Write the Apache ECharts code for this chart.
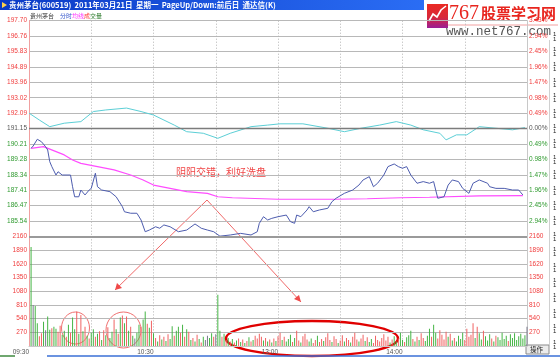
<!DOCTYPE html>
<html><head><meta charset="utf-8">
<script src="https://cdn.jsdelivr.net/npm/echarts@6/dist/echarts.min.js"></script>
<style>html,body{margin:0;padding:0;background:#fff}#c{width:560px;height:362px}</style>
</head><body><div id="c"></div>
<script>
// ---------- data ----------
const prevClose = 191.15;
const priceStep = 0.935;
const priceTickLabels = ['184.61','185.54','186.47','187.41','188.34','189.28','190.21','191.15','192.09','193.02','193.96','194.89','195.83','196.76','197.70'];
const pctTickLabels = ['3.43%','2.94%','2.45%','1.96%','1.47%','0.98%','0.49%','0.00%','0.49%','0.98%','1.47%','1.96%','2.45%','2.94%','3.43%'];
const timeLabels = ['09:30','10:30','13:00','14:00'];
const volMax = 2160, volStep = 270;

// [minute index, price]
const pricePoints = [[1,189.95],[2,190.09],[4,190.50],[6,190.35],[8,190.05],[9,189.85],[10,189.14],[11,188.84],[13,188.33],[14,188.53],[16,188.33],[20,188.33],[21,187.62],[22,187.01],[24,187.01],[25,187.42],[27,187.12],[29,187.42],[30,187.52],[32,188.44],[33,187.62],[35,187.42],[39,187.32],[42,187.01],[45,186.41],[46,186.10],[49,186.01],[52,186.01],[54,185.60],[56,184.89],[58,184.99],[61,185.19],[63,185.10],[65,185.30],[68,185.19],[72,184.89],[76,184.99],[80,185.36],[82,185.19],[83,185.10],[86,184.99],[89,184.89],[92,184.62],[97,184.69],[102,184.79],[107,184.69],[110,184.89],[111,185.40],[113,185.80],[115,185.60],[117,185.70],[120,185.80],[124,185.90],[126,185.50],[128,185.40],[129,185.90],[131,185.80],[134,186.21],[135,186.41],[137,186.10],[140,186.21],[144,186.31],[146,186.71],[148,186.92],[152,187.22],[156,187.42],[159,187.72],[161,188.03],[164,188.23],[166,187.62],[168,187.83],[171,188.33],[173,188.84],[176,189.00],[178,188.84],[180,188.74],[182,188.84],[184,188.33],[187,187.83],[190,187.93],[193,187.83],[195,187.93],[196,187.42],[197,186.92],[200,187.01],[202,187.72],[204,188.03],[207,187.93],[209,187.52],[212,187.22],[214,187.83],[217,188.03],[221,187.83],[222,187.62],[225,187.52],[229,187.52],[233,187.42],[236,187.42],[238,187.12]];
// [minute index, average price]
const avgPoints = [[1,189.95],[7,190.05],[17,189.55],[21,189.24],[25,189.04],[33,188.84],[41,188.64],[49,188.33],[55,188.03],[60,187.72],[68,187.52],[76,187.32],[86,187.22],[91,187.01],[98,186.95],[120,186.86],[147,186.86],[163,186.89],[179,186.95],[193,186.98],[217,187.06],[238,187.08]];
// [minute index, index change %]
const indexPoints = [[0,0.49],[5,0.27],[10,0.06],[17,0.17],[25,0.22],[31,0.54],[37,0.59],[47,0.65],[54,0.54],[60,0.43],[70,0.11],[76,-0.10],[84,-0.15],[91,-0.31],[97,-0.15],[107,0.06],[115,0.11],[121,0.15],[132,0.15],[144,0.01],[152,-0.10],[160,0.01],[169,0.11],[177,0.22],[184,0.11],[190,-0.04],[198,-0.15],[201,-0.36],[206,-0.20],[211,-0.20],[217,0.06],[225,0.01],[233,-0.04],[239,0.03]];
// per-minute volume (minutes 1..240)
const volumes = [
1950,810,790,450,190,250,480,310,580,320,
350,380,340,280,400,220,300,180,420,260,
560,330,680,240,610,290,380,200,150,260,
330,180,240,290,120,310,210,370,160,280,
520,330,240,560,600,450,580,300,380,200,
150,260,420,380,520,680,440,360,500,250,
160,90,210,130,180,100,230,140,390,200,
300,380,260,420,180,330,280,120,160,90,
220,140,70,180,120,200,160,250,180,230,
1010,300,180,240,120,160,90,140,70,110,
150,80,130,60,100,170,90,120,200,150,
240,180,110,160,90,130,70,150,100,190,
260,120,180,90,140,220,80,160,300,110,
70,190,240,130,90,150,60,120,200,80,
140,100,170,250,120,80,190,140,60,110,
210,90,160,120,70,180,260,130,90,150,
220,100,170,80,140,60,200,120,90,160,
230,110,180,70,130,190,90,150,260,120,
80,170,210,300,140,90,180,120,250,160,
100,200,340,180,420,260,150,310,220,130,
280,180,240,110,160,90,200,140,260,120,
340,180,220,450,160,380,250,130,300,190,
110,230,150,90,200,170,120,260,140,200,
100,230,160,250,120,190,240,150,210,380];
// R = up minute, G = down minute, D = unchanged
const volDir = (
'GDGGRRGDGG'+'RGGRRGGRGR'+'GGRGRGRGRG'+'GRGRGRGRGG'+'RGRGRGRGRG'+'DGGRGGRGRG'+
'RGRGRGRGGR'+'GGRGRGRGRG'+'RGRGDDGGRD'+'GGRGRGRGRG'+'RGRGRGRGRR'+'RRGRGRGRGR'+
'RGRGGGRGRR'+'GRRRGGRRGR'+'RGRRRGRRGR'+'RGRRGRRRGR'+'RGRGGRRRRR'+'RRRGRGGRGG'+
'RGGGRGRGRR'+'GGGRGGRRRR'+'RGRGRGGGGR'+'RRRRGRGGRG'+'GGRGRGGGGG'+'RGGGGGGGGD').split('');

// ---------- chart ----------
const priceMin = prevClose - 7 * priceStep;
const priceMax = prevClose + 7 * priceStep;
const kOf = v => Math.round((parseFloat(v) - priceMin) / priceStep);
const sideColor = v => { const k = kOf(v); return k > 7 ? '#f03c3c' : (k === 7 ? '#555555' : '#2f9a2f'); };
const LF = 'Liberation Sans';
const CJK = '"Noto Sans CJK SC"';
const dirColor = { R: '#f06262', G: '#45b545', D: '#7a7a8c' };

const chart = echarts.init(document.getElementById('c'), null, { renderer: 'canvas' });

const xBase = {
  type: 'value', min: 0, max: 240, interval: 30,
  axisTick: { show: false },
  splitLine: { show: true, lineStyle: { color: '#b4b4b4', type: [1, 2], width: 1 } }
};

const onesCol = [];
for (let y = 36; y < 344; y += 15.4) {
  onesCol.push({ type: 'text', style: { x: 553, y: y - 2, text: '1', font: '6px ' + LF, fill: '#222', verticalAlign: 'middle' } });
  onesCol.push({ type: 'text', style: { x: 553, y: y + 3, text: '1', font: '6px ' + LF, fill: '#222', verticalAlign: 'middle' } });
}

const option = {
  animation: false,
  backgroundColor: '#ffffff',
  grid: [
    { left: 29, right: 33, top: 20.7, height: 215.7 },
    { left: 29, right: 33, top: 236.4, height: 109.6 }
  ],
  xAxis: [
    Object.assign({}, xBase, { gridIndex: 0, axisLine: { show: false }, axisLabel: { show: false } }),
    Object.assign({}, xBase, {
      gridIndex: 1,
      axisLine: { show: true, lineStyle: { color: '#c8c8c8' } },
      axisLabel: {
        show: true, fontSize: 6.5, fontFamily: LF, color: '#555', margin: 3, align: 'right',
        formatter: v => (v % 60 === 0 && timeLabels[v / 60]) ? timeLabels[v / 60] : ''
      }
    })
  ],
  yAxis: [
    {
      gridIndex: 0, type: 'value', min: priceMin, max: priceMax, interval: priceStep, position: 'left',
      axisLine: { show: true, lineStyle: { color: '#f0a0a0' } }, axisTick: { show: false },
      splitLine: { show: true, lineStyle: { color: '#b8b8b8', width: 1 } },
      axisLabel: { fontSize: 6.5, fontFamily: LF, margin: 2, color: sideColor,
        formatter: v => { const k = kOf(v); return k === 0 ? '' : priceTickLabels[k]; } }
    },
    {
      gridIndex: 0, type: 'value', min: priceMin, max: priceMax, interval: priceStep, position: 'right',
      axisLine: { show: true, lineStyle: { color: '#c8c8c8' } }, axisTick: { show: false },
      splitLine: { show: false },
      axisLabel: { fontSize: 6.5, fontFamily: LF, margin: 2, color: sideColor,
        formatter: v => { const k = kOf(v); return k === 0 ? '' : pctTickLabels[k]; } }
    },
    {
      gridIndex: 1, type: 'value', min: 0, max: volMax, interval: volStep, position: 'left',
      axisLine: { show: true, lineStyle: { color: '#f0a0a0' } }, axisTick: { show: false },
      splitLine: { show: true, lineStyle: { color: '#b8b8b8', width: 1 } },
      axisLabel: { fontSize: 6.5, fontFamily: LF, margin: 2, color: '#f03c3c', formatter: v => v === 0 ? '' : String(v) }
    },
    {
      gridIndex: 1, type: 'value', min: 0, max: volMax, interval: volStep, position: 'right',
      axisLine: { show: true, lineStyle: { color: '#c8c8c8' } }, axisTick: { show: false },
      splitLine: { show: false },
      axisLabel: { fontSize: 6.5, fontFamily: LF, margin: 2, color: '#f03c3c', formatter: v => v === 0 ? '' : String(v) }
    }
  ],
  series: [
    {
      name: 'index', type: 'line', xAxisIndex: 0, yAxisIndex: 0, showSymbol: false, silent: true,
      data: indexPoints.map(p => [p[0], prevClose * (1 + p[1] / 100)]),
      lineStyle: { color: '#5ccfd6', width: 1 }, z: 2,
      markLine: { symbol: 'none', silent: true, label: { show: false },
        lineStyle: { color: '#7c7c7c', type: 'solid', width: 1.3 }, data: [{ yAxis: prevClose }] }
    },
    {
      name: 'avg', type: 'line', xAxisIndex: 0, yAxisIndex: 0, showSymbol: false, silent: true,
      data: avgPoints, lineStyle: { color: '#ff4cff', width: 1.2 }, z: 3
    },
    {
      name: 'price', type: 'line', xAxisIndex: 0, yAxisIndex: 0, showSymbol: false, silent: true,
      data: pricePoints, lineStyle: { color: '#4d5cae', width: 1 }, z: 4
    },
    {
      name: 'vol', type: 'bar', xAxisIndex: 1, yAxisIndex: 2, barWidth: 1, silent: true,
      data: volumes.map((v, i) => ({ value: [i + 1, v], itemStyle: { color: dirColor[volDir[i]] } })),
      markLine: { symbol: 'none', silent: true, label: { show: false },
        lineStyle: { color: '#9a9a9a', type: 'solid', width: 2 }, data: [{ yAxis: volMax }] }
    }
  ],
  graphic: [
    // title bar
    { type: 'rect', shape: { x: 0, y: 0, width: 430, height: 10 },
      style: { fill: new echarts.graphic.LinearGradient(0, 0, 1, 0, [{ offset: 0, color: '#0b3ac6' }, { offset: 1, color: '#2b6ef5' }]) } },
    { type: 'polygon', shape: { points: [[2, 2], [7, 5], [2, 8]] }, style: { fill: '#ffd24a' } },
    { type: 'text', style: { x: 9, y: 5.5, text: '贵州茅台(600519)  2011年03月21日  星期一  PageUp/Down:前后日  通达信(K)', font: 'bold 7.5px ' + CJK, fill: '#ffffff', verticalAlign: 'middle' } },
    // legend row
    { type: 'text', style: { x: 30, y: 15.5, text: '贵州茅台', font: '6px ' + CJK, fill: '#333', verticalAlign: 'middle' } },
    { type: 'text', style: { x: 60, y: 15.5, text: '分时', font: '6px ' + CJK, fill: '#3355cc', verticalAlign: 'middle' } },
    { type: 'text', style: { x: 72, y: 15.5, text: '均线', font: '6px ' + CJK, fill: '#ff33ff', verticalAlign: 'middle' } },
    { type: 'text', style: { x: 84, y: 15.5, text: '成', font: '6px ' + CJK, fill: '#ff3333', verticalAlign: 'middle' } },
    { type: 'text', style: { x: 90, y: 15.5, text: '交量', font: '6px ' + CJK, fill: '#2a7a2a', verticalAlign: 'middle' } },
    // logo
    { type: 'rect', shape: { x: 424, y: 0, width: 136, height: 39 }, style: { fill: '#ffffff' } },
    { type: 'rect', shape: { x: 427, y: 4, width: 21, height: 24 },
      style: { fill: new echarts.graphic.LinearGradient(0, 0, 0, 1, [{ offset: 0, color: '#ea2a22' }, { offset: 0.55, color: '#d8283a' }, { offset: 1, color: '#9a1e96' }]) } },
    { type: 'polyline', shape: { points: [[429, 21], [433, 14], [437, 17], [441, 10], [446, 6]] }, style: { stroke: '#ffffff', lineWidth: 1.6, fill: null } },
    { type: 'text', style: { x: 449, y: 14, text: '767', font: '20px "Liberation Serif"', fill: '#e8251e', verticalAlign: 'middle' } },
    { type: 'text', style: { x: 481, y: 13.5, text: '股票学习网', font: 'bold 15px ' + CJK, fill: '#e8251e', verticalAlign: 'middle' } },
    { type: 'line', shape: { x1: 448, y1: 25, x2: 558, y2: 25 }, style: { stroke: '#f2a0a0', lineWidth: 1 } },
    { type: 'text', style: { x: 446, y: 31.5, text: 'www.net767.com', font: '12.5px "Liberation Mono"', fill: '#555', verticalAlign: 'middle' } },
    // annotation
    { type: 'text', style: { x: 176, y: 172, text: '阴阳交错，利好洗盘', font: '10px ' + CJK, fill: '#f04646', verticalAlign: 'middle' } },
    { type: 'polyline', shape: { points: [[115, 290], [207, 200], [301, 302]] }, style: { stroke: '#f06a6a', lineWidth: 1, fill: null } },
    { type: 'polygon', shape: { points: [[115, 290], [117, 283], [122, 288]] }, style: { fill: '#f04a4a' } },
    { type: 'polygon', shape: { points: [[301, 302], [294, 299], [299, 295]] }, style: { fill: '#f04a4a' } },
    { type: 'ellipse', shape: { cx: 75.5, cy: 328, rx: 14, ry: 16 }, style: { stroke: '#f07070', lineWidth: 1, fill: 'rgba(0,0,0,0)' } },
    { type: 'ellipse', shape: { cx: 123.5, cy: 330, rx: 17.5, ry: 18 }, style: { stroke: '#f07070', lineWidth: 1, fill: 'rgba(0,0,0,0)' } },
    { type: 'ellipse', shape: { cx: 312, cy: 338.5, rx: 86, ry: 17.5 }, style: { stroke: '#e00000', lineWidth: 2.5, fill: 'rgba(0,0,0,0)' } },
    // bottom strip
    { type: 'line', shape: { x1: 0, y1: 356, x2: 15, y2: 356 }, style: { stroke: '#3f8a3f', lineWidth: 1.5 } },
    { type: 'line', shape: { x1: 47, y1: 356, x2: 560, y2: 356 }, style: { stroke: '#3a6fd6', lineWidth: 1.5 } },
    { type: 'rect', shape: { x: 526, y: 345, width: 23, height: 9 }, style: { fill: '#ececec', stroke: '#8a8a8a', lineWidth: 1 } },
    { type: 'text', style: { x: 530, y: 349.5, text: '操作', font: '6.5px ' + CJK, fill: '#222', verticalAlign: 'middle' } },
    // right edge
    { type: 'line', shape: { x1: 549.5, y1: 40, x2: 549.5, y2: 345 }, style: { stroke: '#d0d0d0', lineWidth: 1 } }
  ].concat(onesCol)
};
chart.setOption(option);
</script>
</body></html>
